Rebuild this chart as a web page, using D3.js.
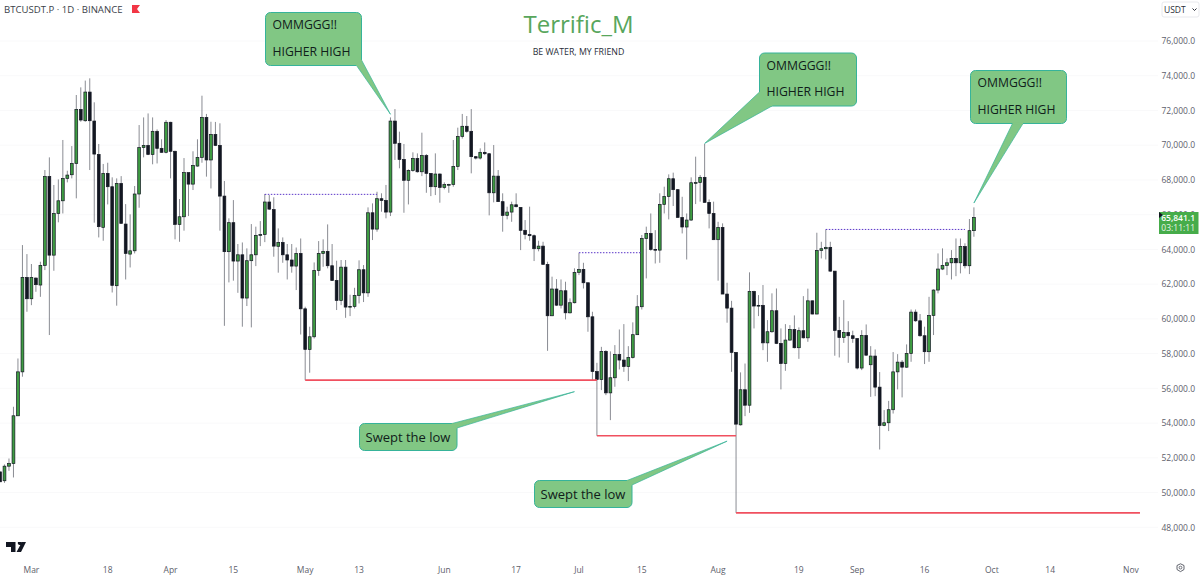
<!DOCTYPE html>
<html>
<head>
<meta charset="utf-8">
<style>
  html, body { margin: 0; padding: 0; background: #fff; overflow: hidden; }
  text { font-family: "Open Sans", "Noto Sans", sans-serif; }
</style>
<script src="https://cdn.jsdelivr.net/npm/d3@7/dist/d3.min.js"></script>
</head>
<body>
<svg id="chart" width="1200" height="578"></svg>
<script>
// BTCUSDT perpetual, daily bars from 23 Feb to 27 Sep
const firstDay = "2024-02-23";
const opens = [51190,50680,51520,51670,54420,56950,62390,61160,62350,61950,63080,68200,63670,66070,66800,68090,68300,68950,72060,71410,73060,71390,69470,65270,68380,67610,61910,67800,65460,63730,63920,67190,69860,69990,69470,70800,69820,69590,71320,69650,65440,65880,68420,67760,68800,69300,71600,69150,70620,69990,67070,63870,65540,63330,63690,61200,63350,63690,64810,64860,66730,66290,64180,64400,63690,63390,63040,63770,60580,58240,58970,62790,63770,63890,63060,62210,61060,62980,60680,60720,61350,62830,61500,66110,65170,66920,66820,66150,71390,70110,69180,67980,68550,69240,68470,69400,68380,67610,68340,67570,67730,67740,68780,70510,71090,70800,69340,69260,69590,69510,67260,68220,66750,65960,66150,66570,66420,65100,64860,64790,64040,64190,63140,60180,61720,60790,61620,60350,60930,62680,62850,62080,60120,56970,56510,58130,55740,56610,57950,57630,57260,57780,59090,60700,64630,64920,64000,63960,66590,67050,68070,67440,65840,65290,65690,67840,67850,68150,66710,66070,64560,65270,61430,60620,58070,53900,55920,55030,61580,60740,60780,58620,59260,60470,58590,57430,58780,59390,58340,59320,58910,61040,60280,63940,64040,64120,62750,59340,58930,59220,59030,58870,57170,59050,57360,57860,56070,53860,54020,54770,56950,57510,57220,58010,60390,59890,59030,58110,60200,61660,62870,63080,63230,63480,63230,64170,63060,65080];
const highs = [51200,51620,51960,54940,57720,64250,63730,63160,62390,63290,68570,69300,67710,68030,70300,68530,69950,72890,73330,73720,73850,72470,70070,68920,68990,68150,68090,68220,66610,66020,67650,71160,71600,71830,71600,70910,70340,71450,71350,69680,66900,69260,68420,69650,70340,72850,71800,71350,71340,71260,67940,65790,66840,64310,64400,64060,65460,65310,65630,67190,67130,67000,65210,64690,64310,64310,64110,64630,60700,59550,63250,64480,64580,65440,64310,63350,63390,63390,61390,61790,63370,63100,66420,66650,67320,67230,67710,71600,72080,70780,70070,68610,69590,69530,70720,69490,68380,69530,68380,67860,67780,70300,71010,71800,71680,72080,69380,69820,70160,69530,70010,68570,67230,66460,66750,67230,66420,65690,66460,64860,64500,64440,63290,62430,62290,62270,62140,61180,62910,63810,63230,62080,60410,57470,58390,58200,58130,58490,59390,59700,58430,59800,61370,64830,65310,66070,65110,67230,67610,68320,68420,67470,67030,66070,68150,69340,68280,70070,66880,66750,65590,65500,62080,61040,58070,56920,57430,62680,61620,61370,61950,59930,61470,61750,59450,59700,59640,60200,59510,61310,61740,61060,64960,64440,65150,64440,62750,60120,61080,59870,59320,58880,59350,59680,58430,58240,56940,54750,55280,58090,57970,57630,58530,60540,60540,60280,59550,61270,61700,63770,64060,63480,63960,64630,64630,64350,65750,66420];
const lows = [50610,50560,51250,50870,54420,56670,60410,60790,61560,61270,62810,59070,62770,65560,66070,67860,68090,66940,71350,71350,68570,65540,64690,64500,66590,61520,60760,65500,62270,62960,63770,66400,69300,69430,68900,68950,69570,69530,68090,64580,64440,65080,65920,67420,68760,68990,68190,67510,69950,65080,59600,62100,62200,61500,59550,60740,59510,63040,64190,64420,66270,63580,62660,63230,62270,62660,61660,59100,56470,56900,58870,62480,63000,62910,62200,60510,60790,60060,60160,60600,60890,60970,61270,64540,65020,66170,65790,65920,69150,68670,66110,66590,68470,68420,68220,67260,67070,67130,66690,67460,67260,67610,68570,70380,70720,68380,69180,69180,69430,65960,66710,66730,65020,65730,65590,66420,63960,64580,64500,63330,63890,63140,58160,60160,60740,60600,59970,60310,60890,62520,61750,59260,56470,53270,55900,55610,54170,56090,57090,56950,56420,57720,59070,60540,62330,63920,63190,63230,66070,65730,66500,65840,64920,63420,65650,66610,66750,66690,65210,64540,62200,61430,59780,56950,48830,53860,54400,54590,59450,60160,58200,57530,59200,58550,55940,57010,58740,58300,57700,58870,58680,60260,60270,63480,63420,62710,57880,57780,58620,57470,58620,57090,57050,57880,55510,55550,52480,53820,53540,54550,55940,55480,57180,57530,59830,58970,57400,57530,59070,61470,62810,62520,62270,62460,62620,62910,62580,64730];
const closes = [50620,51520,51670,54420,56950,62390,61160,62390,61970,63080,68200,63670,66070,66800,68090,68280,68950,72060,71450,73060,71410,69490,65310,68380,67610,61930,67800,65500,63770,63920,67190,69860,69990,69470,70800,69820,69590,71320,69650,65440,65880,68420,67760,68840,69300,71600,69150,70620,69990,67070,63870,65540,63330,63690,61200,63350,63690,64810,64860,66730,66320,64190,64400,63690,63390,63040,63770,60580,58240,58970,62790,63770,63890,63060,62210,61060,62980,60680,60720,61350,62830,61500,66110,65170,66920,66820,66150,71390,70110,69180,67980,68550,69240,68470,69400,68380,67610,68340,67570,67730,67740,68780,70510,71090,70800,69340,69260,69590,69510,67260,68220,66750,65960,66150,66570,66460,65100,64860,64790,64040,64190,63140,60180,61720,60790,61620,60350,60930,62680,62850,62080,60120,56970,56510,58130,55740,56610,57950,57630,57260,57780,59090,60700,64630,64920,64000,63960,66590,67050,68070,67440,65840,65290,65690,67840,67850,68150,66710,66070,64560,65270,61430,60620,58070,53940,55920,55030,61580,60740,60780,58620,59260,60470,58590,57430,58780,59390,58340,59320,58910,61040,60280,63940,64040,64120,62750,59340,58930,59220,59030,58870,57170,59050,57910,57860,56070,53860,54020,54770,56950,57510,57220,58010,60390,59890,59030,58110,60200,61660,62870,63080,63230,63480,63230,64170,63060,65080,65841.1];

const priceTicks = [76000,74000,72000,70000,68000,66000,64000,62000,60000,58000,56000,54000,52000,50000,48000];
const dateTicks = [["2024-03-01","Mar"],["2024-03-18","18"],["2024-04-01","Apr"],["2024-04-15","15"],["2024-05-01","May"],["2024-05-13","13"],["2024-06-01","Jun"],["2024-06-17","17"],["2024-07-01","Jul"],["2024-07-15","15"],["2024-08-01","Aug"],["2024-08-19","19"],["2024-09-01","Sep"],["2024-09-16","16"],["2024-10-01","Oct"],["2024-10-14","14"],["2024-11-01","Nov"]];

// Swept-low levels: price, first day, last day
const lowLevels = [
  [56470, "2024-05-01", "2024-07-05"],
  [53270, "2024-07-05", "2024-08-05"],
  [48830, "2024-08-05", "2024-11-03"]
];
// Prior-high levels joined by dotted lines
const highLevels = [
  [67170, "2024-04-22", "2024-05-17"],
  [63810, "2024-07-01", "2024-07-15"],
  [65150, "2024-08-25", "2024-09-25"]
];
const lastPrice = "65,841.1";
const countdown = "03:11:11";

const width = 1200, height = 578, plotRight = 1158, axisBottom = 570;
const parseDay = d3.utcParse("%Y-%m-%d");
const startDay = parseDay(firstDay);

const x = d3.scaleUtc()
  .domain([startDay, parseDay("2024-11-01")])
  .range([0, 1131]);
const y = d3.scaleLinear()
  .domain([48000, 76000])
  .range([527.3, 41]);

const ink = "#131722", bull = "#3e9c42", axisText = "#5d606b";
const svg = d3.select("#chart");

// Faint horizontal grid
svg.append("g").selectAll("line").data(priceTicks).join("line")
  .attr("x1", 0).attr("x2", plotRight)
  .attr("y1", d => y(d)).attr("y2", d => y(d))
  .attr("stroke", "#f9f9fa").attr("stroke-width", 1);

// Candles
const bars = d3.range(opens.length).map(i => ({
  day: d3.utcDay.offset(startDay, i),
  o: opens[i], h: highs[i], l: lows[i], c: closes[i]
}));
const candle = svg.append("g").selectAll("g").data(bars).join("g");
candle.append("line")
  .attr("x1", d => x(d.day)).attr("x2", d => x(d.day))
  .attr("y1", d => y(d.h)).attr("y2", d => y(d.l))
  .attr("stroke", "#4a4d58").attr("stroke-width", 0.65);
candle.append("rect")
  .attr("x", d => x(d.day) - 1.4)
  .attr("width", 2.8)
  .attr("y", d => y(Math.max(d.o, d.c)))
  .attr("height", d => Math.max(0.8, Math.abs(y(d.o) - y(d.c))))
  .attr("fill", d => d.c >= d.o ? bull : ink)
  .attr("stroke", ink).attr("stroke-width", 0.7);

// Level lines
svg.append("g").selectAll("line").data(lowLevels).join("line")
  .attr("x1", d => x(parseDay(d[1]))).attr("x2", d => x(parseDay(d[2])))
  .attr("y1", d => y(d[0])).attr("y2", d => y(d[0]))
  .attr("stroke", "#f0505f").attr("stroke-width", 1.7);
svg.append("g").selectAll("line").data(highLevels).join("line")
  .attr("x1", d => x(parseDay(d[1]))).attr("x2", d => x(parseDay(d[2])))
  .attr("y1", d => y(d[0])).attr("y2", d => y(d[0]))
  .attr("stroke", "#5a35c8").attr("stroke-width", 1).attr("stroke-dasharray", "1.5 1.5");

// Callouts: a rounded box plus a tail ending at a bar's date and price
function callout(box, tail, tipDay, tipPrice, lines) {
  const tip = [x(parseDay(tipDay)), y(tipPrice)];
  const g = svg.append("g");
  const fill = "#81c784", edge = "#36b39a";
  g.append("rect")
    .attr("x", box.x).attr("y", box.y).attr("width", box.w).attr("height", box.h)
    .attr("rx", 5).attr("fill", fill).attr("stroke", edge).attr("stroke-width", 1);
  g.append("path")
    .attr("d", d3.line()([tail[0], tip, tail[1]]))
    .attr("fill", fill).attr("stroke", "none");
  g.append("path")
    .attr("d", d3.line()([tail[0], tip, tail[1]]))
    .attr("fill", "none").attr("stroke", edge).attr("stroke-width", 0.7);
  // Hide the box edge where the tail joins it
  g.append("path")
    .attr("d", d3.line()(tail))
    .attr("fill", "none").attr("stroke", fill).attr("stroke-width", 1.6);
  g.selectAll("text").data(lines).join("text")
    .attr("x", box.x + box.pad).attr("y", d => d.y)
    .attr("fill", "#10201a")
    .attr("font-family", "'Noto Sans', sans-serif")
    .attr("font-size", box.size).text(d => d.t);
}

callout({x:265.5, y:12.5, w:96, h:53, pad:7, size:12.2},
  [[356.5,65.5],[361.5,60]], "2024-05-20", 71780,
  [{t:"OMMGGG!!", y:29}, {t:"HIGHER HIGH", y:55.5}]);
callout({x:759.5, y:53, w:97, h:53, pad:7, size:12.2},
  [[759.5,92],[772,106]], "2024-07-29", 70100,
  [{t:"OMMGGG!!", y:69.5}, {t:"HIGHER HIGH", y:96}]);
callout({x:970.5, y:70.5, w:96, h:53, pad:7, size:12.2},
  [[1012.5,123.5],[1023,123.5]], "2024-09-27", 66670,
  [{t:"OMMGGG!!", y:87}, {t:"HIGHER HIGH", y:113.5}]);
callout({x:359.5, y:423.5, w:97.5, h:27, pad:6, size:13},
  [[452,423.5],[457,428]], "2024-06-30", 55810,
  [{t:"Swept the low", y:441.5}]);
callout({x:534.5, y:480.5, w:97.5, h:27, pad:6, size:13},
  [[627,480.5],[632,485]], "2024-08-03", 52960,
  [{t:"Swept the low", y:498.5}]);

// Watermark
svg.append("text").attr("x", 578.5).attr("y", 33).attr("text-anchor", "middle")
  .attr("font-family", "'Noto Sans', sans-serif")
  .attr("font-size", 24).attr("fill", "#58a65c").text("Terrific_M");
svg.append("text").attr("x", 578.5).attr("y", 55).attr("text-anchor", "middle")
  .attr("font-family", "'Noto Sans', sans-serif")
  .attr("font-size", 8.8).attr("fill", "#2a2e39").text("BE WATER, MY FRIEND");

// Symbol header
svg.append("text").attr("x", 4).attr("y", 13)
  .attr("font-size", 9.6).attr("fill", "#3b3f4a").text("BTCUSDT.P · 1D · BINANCE");
svg.append("path").attr("d", "M132 5H140L137 9L140 13H132Z").attr("fill", "#f23645");

// Price axis
svg.append("g").selectAll("text").data(priceTicks).join("text")
  .attr("x", 1195).attr("y", d => y(d) + 3.2).attr("text-anchor", "end")
  .attr("font-size", 8.5).attr("fill", axisText)
  .text(d => d3.format(",.1f")(d));

// Date axis
svg.append("g").selectAll("text").data(dateTicks).join("text")
  .attr("x", d => x(parseDay(d[0]))).attr("y", axisBottom + 3).attr("text-anchor", "middle")
  .attr("font-size", 8.5).attr("fill", axisText).text(d => d[1]);

// Currency selector
svg.append("rect").attr("x", 1162).attr("y", 2).attr("width", 37).attr("height", 15).attr("rx", 2)
  .attr("fill", "#fff").attr("stroke", "#e8e9ed");
svg.append("text").attr("x", 1164).attr("y", 12.5)
  .attr("font-size", 8.5).attr("fill", "#2a2e39").text("USDT");
svg.append("path").attr("d", "M1192.5 8.5L1194.5 10.5L1196.5 8.5").attr("fill", "none").attr("stroke", "#2a2e39");

// Last-price tag
const tagY = y(closes[closes.length - 1]);
svg.append("rect").attr("x", 1159).attr("y", 212).attr("width", 39.5).attr("height", 22)
  .attr("fill", "#46ac4a");
svg.append("path").attr("d", `M1159 ${tagY - 5.5}L1163 ${tagY - 2.5}L1159 ${tagY + 0.5}Z`).attr("fill", ink);
svg.append("text").attr("x", 1195).attr("y", 221).attr("text-anchor", "end")
  .attr("font-size", 8.5).attr("font-weight", 600).attr("fill", "#fff").text(lastPrice);
svg.append("text").attr("x", 1195).attr("y", 231).attr("text-anchor", "end")
  .attr("font-size", 8.5).attr("fill", "#e6f5e7").text(countdown);

// TradingView mark
svg.append("path")
  .attr("d", "M6 542H15.5V552H11V547H6ZM18 542H21.5A2 2 0 1 1 18 542ZM22 542H26L21 552H16.5Z")
  .attr("fill", ink);

// Settings gear
svg.append("path")
  .attr("d", "M1177 565.5L1180.5 563.8L1184 565.5V569.5L1180.5 571.6L1177 569.5Z")
  .attr("fill", "none").attr("stroke", "#50535e").attr("stroke-width", 0.9);
svg.append("circle").attr("cx", 1180.5).attr("cy", 567.6).attr("r", 1.4)
  .attr("fill", "none").attr("stroke", "#50535e").attr("stroke-width", 0.8);
</script>
</body>
</html>
